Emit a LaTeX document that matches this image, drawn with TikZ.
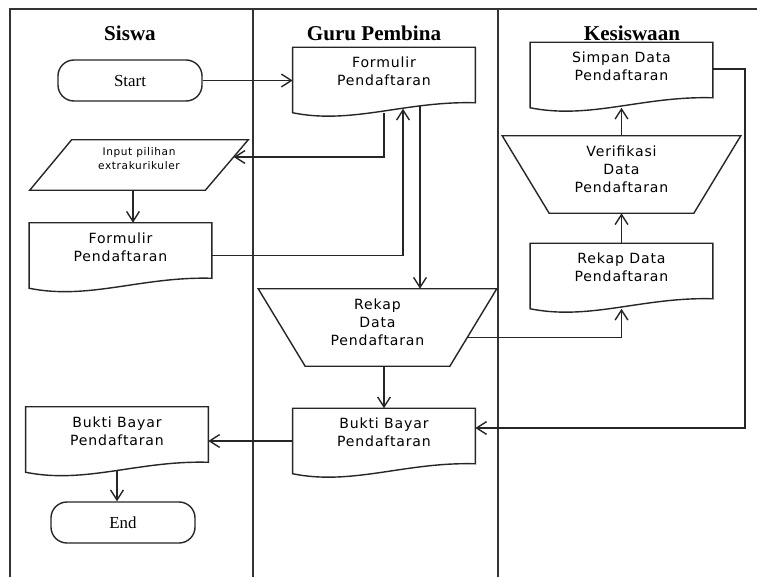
\documentclass[tikz,border=0pt]{standalone}
\usepackage{fontspec}
\setmainfont{Liberation Serif}
\setsansfont{DejaVu Sans}[LetterSpace=6]
\usepackage{tikz}
\usetikzlibrary{arrows.meta,calc,positioning}
\pgfdeclarelayer{bg}
\pgfsetlayers{bg,main}
\newcommand{\docwidth}{4.55cm}
\newcommand{\docheight}{1.625cm}
% outlines drawn over the node boxes
\newcommand{\docshape}[1]{%
  \path [outline] (#1.south west) -- (#1.north west) -- (#1.north east)
    -- ($(#1.south east)+(0,-10)$) .. controls +(-70,-2) and +(60,12) .. (#1.south west) -- cycle;}
\newcommand{\manualop}[1]{%
  \path [outline] (#1.north west) -- (#1.north east) -- ($(#1.south east)+(-47,0)$)
    -- ($(#1.south west)+(47,0)$) -- cycle;}
\newcommand{\dataio}[1]{%
  \path [outline] ($(#1.north west)+(42,0)$) -- (#1.north east) -- ($(#1.south east)+(-43,0)$)
    -- (#1.south west) -- cycle;}
\tikzset{
  >={Straight Barb[length=2.5mm,width=3.2mm]},
  font=\fontsize{10}{12.8}\selectfont\sffamily,
  outline/.style={draw=black!85,line width=1pt,fill=white},
  lane/.style={draw=black!80,line width=1.1pt},
  title/.style={font=\fontsize{15}{18}\selectfont\rmfamily\bfseries},
  term/.style={outline,rounded corners=0.4cm,minimum width=3.6cm,minimum height=1.025cm,font=\fontsize{12}{14}\selectfont\rmfamily},
  docbox/.style={minimum width=\docwidth,minimum height=\docheight,align=center,text depth=12pt},
  opbox/.style={minimum width=5.95cm,minimum height=1.925cm,align=center,text depth=8pt},
  iobox/.style={minimum width=5.45cm,minimum height=1.25cm,align=center,text depth=9pt,font=\fontsize{7.5}{10}\selectfont\sffamily},
  line/.style={draw=black!85,line width=1pt,->}
}
\begin{document}
\begin{tikzpicture}[x=0.025cm,y=-0.025cm]
    \useasboundingbox (0,0) rectangle (757,577);

    \node (sTitle) [title] at (130,33) {Siswa};
    \node (gTitle) [title] at (374,33) {Guru Pembina};
    \node (kTitle) [title] at (632,33) {Kesiswaan};

    \node (start) [term] at (130,80.5) {Start};
    \node (input) [iobox] at (139,165) {Input pilihan\\extrakurikuler};
    \node (formS) [docbox] at (120.5,255.5) {Formulir\\Pendaftaran};
    \node (buktiS) [docbox] at (117,439.5) {Bukti Bayar\\Pendaftaran};
    \node (finish) [term] at (123,522.5) {End};

    \node (formG) [docbox] at (384,80) {Formulir\\Pendaftaran};
    \node (rekapG) [opbox] at (377.5,327.5) {Rekap\\Data\\Pendaftaran};
    \node (buktiG) [docbox] at (384,441) {Bukti Bayar\\Pendaftaran};

    \node (simpan) [docbox] at (621.5,75) {Simpan Data\\Pendaftaran};
    \node (verif) [opbox] at (621.5,174.5) {Verifikasi\\Data\\Pendaftaran};
    \node (rekapK) [docbox] at (621.5,276) {Rekap Data\\Pendaftaran};

    \coordinate (inR) at ($(input.east)+(-14.6,-8)$);
    \coordinate (inS) at ($(input.south)+(-6,0)$);
    \coordinate (gx) at ($(formG)+(36,0)$);
    \coordinate (rail) at ($(simpan.east)+(32,0)$);
    \coordinate (bG) at ($(buktiG.east)+(0,-13)$);

    \begin{pgfonlayer}{bg}
      \path [lane] (10,577) -- (10,9) -- (757,9);
      \path [lane] (253,9) -- (253,577);
      \path [lane] (498,9) -- (498,577);

      \path [line] (start.east) -- (start.east -| formG.west);
      \path [line] (formG) |- (inR);
      \path [line] (inS) -- (inS |- formS.north);
      \path [line] (formS) -| ($(formG.south)+(19,-4)$);
      \path [line] (gx) -- (gx |- rekapG.north);
      \path [line] ($(rekapG)+(0,10)$) -| (rekapK.south);
      \path [line] (rekapK.north) -- (verif.south);
      \path [line] (verif.north) -- (simpan.south);
      \path [line] ($(simpan)+(0,-6)$) -| (rail |- bG) -- (bG);
      \path [line] (buktiG.north |- rekapG.south) -- (buktiG.north);
      \path [line] (buktiG.west) -- (buktiG.west -| buktiS.east);
      \path [line] (buktiS.center) -- (buktiS.center |- finish.north);

      \dataio{input}
      \docshape{formS}
      \docshape{buktiS}
      \docshape{formG}
      \docshape{buktiG}
      \docshape{simpan}
      \docshape{rekapK}
      \manualop{rekapG}
      \manualop{verif}
    \end{pgfonlayer}
  \end{tikzpicture}
\end{document}
